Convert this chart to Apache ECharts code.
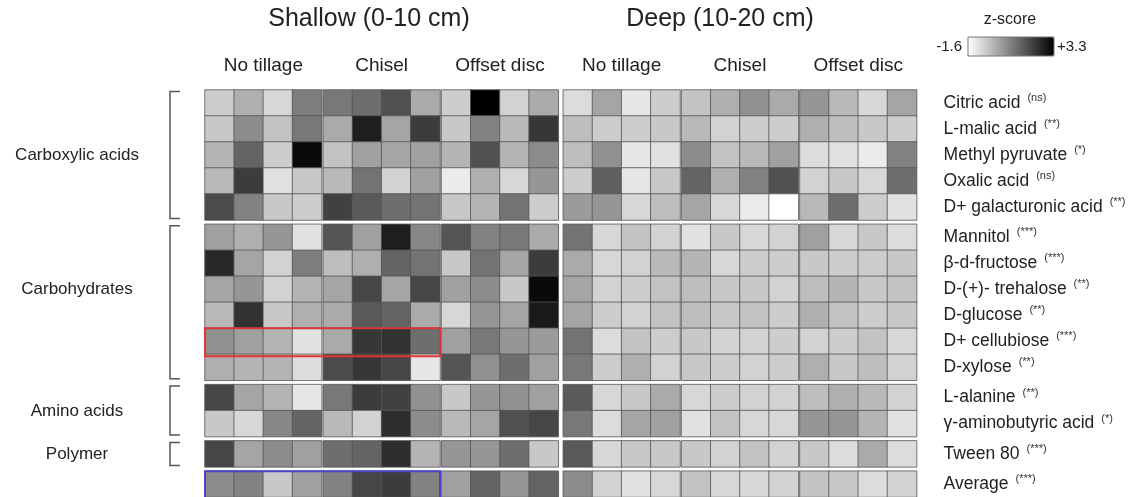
<!DOCTYPE html>
<html><head><meta charset="utf-8">
<script src="https://cdn.jsdelivr.net/npm/echarts@6/dist/echarts.min.js"></script>
<style>html,body{margin:0;padding:0;background:#fff}#c{width:1140px;height:497px}</style>
</head><body><div id="c"></div>
<script>
// ---------- DATA ----------
const depths = ['Shallow (0-10 cm)', 'Deep (10-20 cm)'];
const tillages = ['No tillage', 'Chisel', 'Offset disc'];
const reps = ['1', '2', '3', '4'];

const carboxylicNames = ['Citric acid', 'L-malic acid', 'Methyl pyruvate', 'Oxalic acid', 'D+ galacturonic acid'];
const carboxylicSig = ['ns', '**', '*', 'ns', '**'];
const carbohydrateNames = ['Mannitol', 'β-d-fructose', 'D-(+)- trehalose', 'D-glucose', 'D+ cellubiose', 'D-xylose'];
const carbohydrateSig = ['***', '***', '**', '**', '***', '**'];
const aminoNames = ['L-alanine', 'γ-aminobutyric acid'];
const aminoSig = ['**', '*'];
const polymerNames = ['Tween 80'];
const polymerSig = ['***'];
const averageNames = ['Average'];
const averageSig = ['***'];

// z-scores, 24 columns: shallow NT(4), Chisel(4), Offset(4), deep NT(4), Chisel(4), Offset(4)
const carboxylicZ = [
  [-0.64,-0.06,-0.83,0.9, 1.0,1.2,1.76,0.03, -0.64,3.3,-0.74,0.03, -0.93,0.13,-1.12,-0.64, -0.45,-0.06,0.52,0.03, 0.42,-0.25,-0.83,0.13],
  [-0.54,0.61,-0.45,0.99, 0.03,2.72,0.13,2.15, -0.54,0.8,-0.25,2.24, -0.35,-0.64,-0.64,-0.54, -0.25,-0.74,-0.64,-0.64, -0.06,-0.35,-0.54,-0.64],
  [-0.16,1.38,-0.64,3.11, -0.45,0.23,0.13,0.23, -0.16,1.76,-0.16,0.61, -0.35,0.52,-1.12,-1.02, 0.61,-0.45,-0.25,0.23, -0.93,-1.02,-1.22,0.8],
  [-0.25,2.15,-1.02,-0.54, -0.25,1.09,-0.74,0.23, -1.22,-0.06,-0.83,0.42, -0.64,1.47,-1.12,-0.54, 1.38,-0.06,0.8,1.76, -0.74,-0.54,-0.83,1.19],
  [1.86,0.8,-0.54,-0.64, 2.05,1.57,1.19,1.09, -0.54,-0.16,1.09,-0.64, 0.32,0.42,-0.83,-0.35, 0.13,-0.83,-1.22,-1.6, -0.25,1.19,-0.64,-1.02]
];
const carbohydrateZ = [
  [0.23,-0.06,0.42,-1.02, 1.67,0.23,2.72,0.7, 1.67,0.8,0.99,0.03, 1.09,-0.83,-0.45,-0.74, -1.02,-0.54,-0.83,-0.74, 0.23,-0.83,-0.54,-0.93],
  [2.53,0.13,-0.74,0.9, -0.35,-0.06,1.38,1.09, -0.54,1.09,0.13,2.15, 0.03,-0.83,-0.74,-0.25, -0.16,-0.83,-0.64,-0.64, -0.54,-0.64,-0.64,-0.54],
  [0.13,0.42,-0.74,-0.16, 0.13,1.95,0.13,1.95, 0.23,0.61,-0.54,3.11, 0.13,-0.74,-0.64,-0.45, -0.35,-0.54,-0.54,-0.74, -0.35,-0.16,-0.54,-0.45],
  [-0.25,2.34,-0.54,-0.06, 0.03,1.57,1.38,0.03, -0.83,0.42,0.13,2.82, 0.13,-0.64,-0.74,-0.45, -0.35,-0.54,-0.45,-0.64, -0.06,-0.45,-0.64,-0.54],
  [0.52,0.23,-0.16,-1.02, 0.03,2.24,2.34,1.19, 0.23,0.99,0.42,0.32, 1.09,-0.93,-0.45,-0.64, -0.54,-0.74,-0.74,-0.64, -0.74,-0.64,-0.45,-0.83],
  [-0.06,-0.16,-0.16,-0.93, 1.86,2.24,1.95,-1.12, 1.67,0.52,1.19,0.23, 0.99,-0.64,-0.06,-0.74, -0.54,-0.64,-0.74,-0.64, -0.06,-0.54,-0.35,-0.74]
];
const aminoZ = [
  [1.95,0.13,-0.16,-1.12, 0.99,2.15,2.05,0.52, -0.54,0.42,0.52,0.23, 1.57,-0.83,-0.54,0.03, -0.83,-0.64,-0.74,-0.74, -0.35,-0.06,-0.25,-0.74],
  [-0.54,-0.83,0.7,1.38, -0.25,-0.74,2.44,0.61, -0.25,0.13,1.76,1.95, 0.99,-0.93,0.13,0.23, -1.02,-0.45,-0.83,-0.83, 0.42,0.42,-0.16,-1.02]
];
const polymerZ = [
  [1.95,0.13,0.61,0.23, 1.19,1.38,2.44,-0.16, 0.42,0.42,1.19,-0.54, 1.57,-0.83,-0.54,-0.54, -0.54,-0.74,-0.45,-0.74, -0.54,-0.93,0.03,-0.93]
];
const averageZ = [
  [0.61,0.8,-0.54,0.23, 0.8,1.95,2.15,0.8, 0.23,1.38,0.42,1.38, 0.61,-0.74,-1.02,-0.83, -0.45,-0.83,-0.83,-0.74, -0.45,-0.54,-0.93,-0.74]
];
const zMin = -1.6, zMax = 3.3;
const zTickLabels = ['-1.6', '+3.3'];

// ---------- LAYOUT ----------
const FONT = 'Liberation Sans, Arial, Helvetica, sans-serif';
const rowGroups = [
  { label: 'Carboxylic acids', names: carboxylicNames, sig: carboxylicSig, z: carboxylicZ, labelY: 155 },
  { label: 'Carbohydrates', names: carbohydrateNames, sig: carbohydrateSig, z: carbohydrateZ, labelY: 289 },
  { label: 'Amino acids', names: aminoNames, sig: aminoSig, z: aminoZ, labelY: 411 },
  { label: 'Polymer', names: polymerNames, sig: polymerSig, z: polymerZ, labelY: 454 },
  { label: '', names: averageNames, sig: averageSig, z: averageZ, labelY: 0 }
];
const rowH = 26, rowGap = 4.3, top0 = 90;
const colW = 116.7, colStep = 118.3;
const colLefts = [205, 205 + colStep, 205 + 2 * colStep, 563.3, 563.3 + colStep, 563.3 + 2 * colStep];

const sigMap = {};
rowGroups.forEach(g => g.names.forEach((n, i) => sigMap[n] = g.sig[i]));

let t = top0;
rowGroups.forEach(g => { g.top = t; g.h = g.names.length * rowH; t += g.h + rowGap; });

const grid = [], xAxis = [], yAxis = [], series = [];
rowGroups.forEach((g, ri) => {
  colLefts.forEach((left, ci) => {
    const idx = grid.length;
    grid.push({ left: left, top: g.top, width: colW, height: g.h });
    xAxis.push({ type: 'category', gridIndex: idx, data: reps, show: false });
    const isLast = ci === colLefts.length - 1;
    yAxis.push({
      type: 'category', gridIndex: idx, data: g.names, inverse: true,
      position: 'right',
      axisLine: { show: false }, axisTick: { show: false }, splitLine: { show: false },
      axisLabel: isLast ? {
        show: true, margin: 27, align: 'left',
        formatter: v => '{n|' + v + '}{s|(' + sigMap[v] + ')}',
        rich: {
          n: { fontSize: 17.5, fontFamily: FONT, color: '#222' },
          s: { fontSize: 11, fontFamily: FONT, color: '#333', verticalAlign: 'top', padding: [0, 0, 10, 7] }
        }
      } : { show: false }
    });
    const data = [];
    g.z.forEach((row, r) => {
      for (let k = 0; k < 4; k++) data.push([k, r, row[ci * 4 + k]]);
    });
    series.push({
      type: 'heatmap', xAxisIndex: idx, yAxisIndex: idx, data: data,
      itemStyle: { borderColor: 'rgba(85,85,85,0.8)', borderWidth: 1 },
      emphasis: { disabled: true }
    });
  });
});

const graphic = [];
const txt = (text, x, y, size, align) => ({
  type: 'text', x: x, y: y, silent: true,
  style: { text: text, font: size + 'px ' + FONT, fill: '#222', align: align || 'center', verticalAlign: 'middle' }
});
// depth headers
graphic.push(txt(depths[0], 369, 19, 25));
graphic.push(txt(depths[1], 720, 19, 25));
// tillage headers
colLefts.forEach((l, ci) => graphic.push(txt(tillages[ci % 3], l + colW / 2, 66, 19)));
// group labels & brackets
rowGroups.forEach(g => {
  if (!g.label) return;
  graphic.push(txt(g.label, 77, g.labelY, 17));
  const y1 = g.top + 1.5, y2 = g.top + g.h - 1.5;
  graphic.push({
    type: 'polyline', silent: true,
    shape: { points: [[180, y1], [170, y1], [170, y2], [180, y2]] },
    style: { stroke: '#555', lineWidth: 1.5, fill: null }
  });
});
// highlight boxes (cellubiose row & average row, shallow no tillage + chisel)
const cg = rowGroups[1];
graphic.push({
  type: 'rect', silent: true, z: 100,
  shape: { x: colLefts[0], y: cg.top + 4 * rowH, width: colLefts[1] + colW - colLefts[0], height: rowH + 2 },
  style: { stroke: '#e03535', lineWidth: 2, fill: null }
});
const ag = rowGroups[4];
graphic.push({
  type: 'rect', silent: true, z: 100,
  shape: { x: colLefts[0], y: ag.top, width: colLefts[1] + colW - colLefts[0], height: rowH + 4 },
  style: { stroke: '#4a44c8', lineWidth: 2, fill: null }
});
// colour scale title, end labels, border
const barX = 968, barY = 37, barW = 86, barH = 19;
graphic.push(txt('z-score', 1010, 20, 16));
graphic.push(txt(zTickLabels[0], barX - 6, barY + barH / 2, 15, 'right'));
graphic.push(txt(zTickLabels[1], barX + barW + 3, barY + barH / 2, 15, 'left'));
graphic.push({
  type: 'rect', silent: true, z: 100,
  shape: { x: barX, y: barY, width: barW, height: barH },
  style: { stroke: '#777', lineWidth: 1, fill: null }
});

const chart = echarts.init(document.getElementById('c'), null, { renderer: 'canvas' });
chart.setOption({
  animation: false,
  backgroundColor: '#fff',
  grid, xAxis, yAxis, series, graphic,
  visualMap: {
    type: 'continuous', min: zMin, max: zMax, orient: 'horizontal',
    left: barX, top: barY, itemWidth: barH, itemHeight: barW, padding: 0,
    text: null, calculable: false, hoverLink: false,
    inRange: { color: ['#ffffff', '#000000'] },
    textStyle: { fontSize: 0 },
    seriesIndex: series.map((s, i) => i)
  }
});
</script></body></html>
